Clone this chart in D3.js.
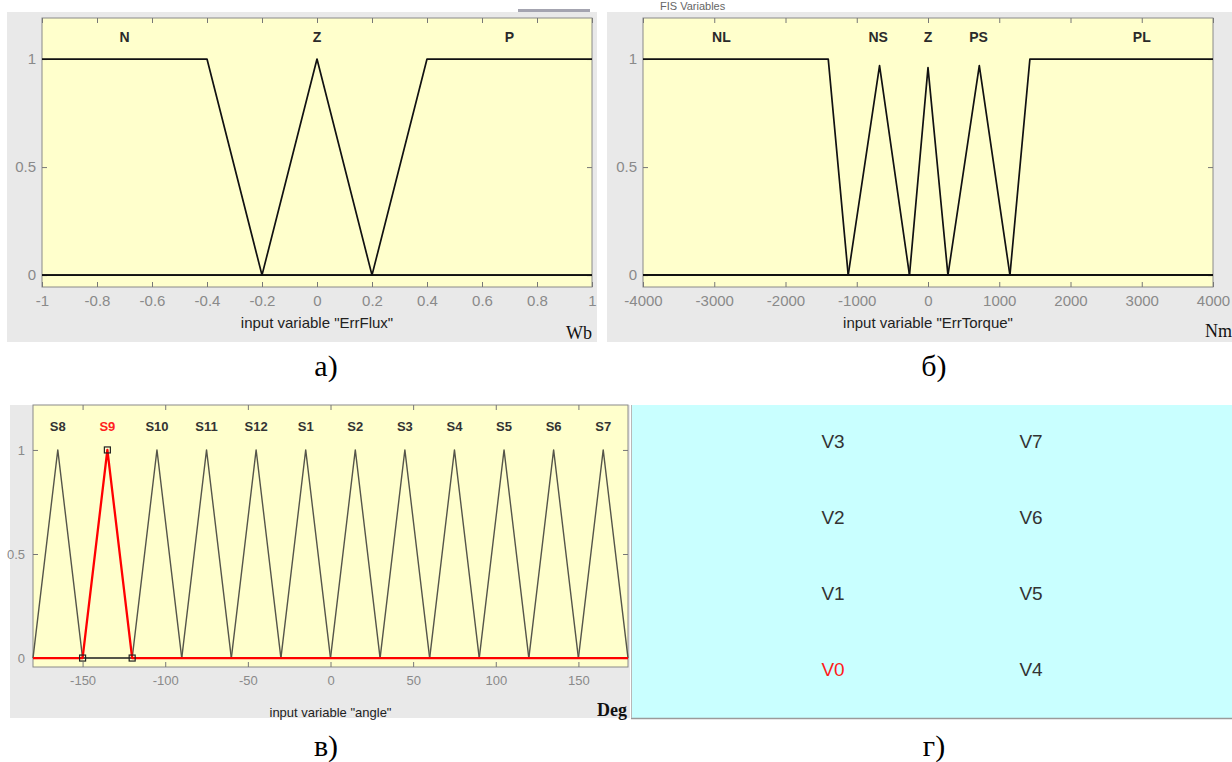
<!DOCTYPE html>
<html>
<head>
<meta charset="utf-8">
<script src="https://cdn.jsdelivr.net/npm/d3@7"></script>
<style>
  body { margin: 0; background: #fff; }
  svg { display: block; }
  .tick text { fill: #8a8a8a; }
  .tick line { stroke: #777; }
</style>
</head>
<body>
<div id="chart-area"></div>
<script>
    // panel a) - ErrFlux
    var fluxTicks = [-1, -0.8, -0.6, -0.4, -0.2, 0, 0.2, 0.4, 0.6, 0.8, 1];
    var fluxNames = ['N', 'Z', 'P'];
    var fluxNameX = [-0.7, 0, 0.7];
    var fluxMF = [
      [[-1, 1], [-0.4, 1], [-0.2, 0], [1, 0]],
      [[-1, 0], [-0.2, 0], [0, 1], [0.2, 0], [1, 0]],
      [[-1, 0], [0.2, 0], [0.4, 1], [1, 1]]
    ];

    // panel b) - ErrTorque
    var torqueTicks = [-4000, -3000, -2000, -1000, 0, 1000, 2000, 3000, 4000];
    var torqueNames = ['NL', 'NS', 'Z', 'PS', 'PL'];
    var torqueNameX = [-2900, -700, 0, 710, 3000];
    var torqueMF = [
      [[-4000, 1], [-1400, 1], [-1120, 0], [4000, 0]],
      [[-4000, 0], [-1120, 0], [-680, 0.97], [-260, 0], [4000, 0]],
      [[-4000, 0], [-260, 0], [0, 0.96], [280, 0], [4000, 0]],
      [[-4000, 0], [280, 0], [720, 0.97], [1150, 0], [4000, 0]],
      [[-4000, 0], [1150, 0], [1430, 1], [4000, 1]]
    ];

    // panel v) - angle
    var angleTicks = [-150, -100, -50, 0, 50, 100, 150];
    var angleNames = ['S8', 'S9', 'S10', 'S11', 'S12', 'S1', 'S2', 'S3', 'S4', 'S5', 'S6', 'S7'];
    var angleTri = [
      [-180, -165, -150], [-150, -135, -120], [-120, -105, -90], [-90, -75, -60],
      [-60, -45, -30], [-30, -15, 0], [0, 15, 30], [30, 45, 60],
      [60, 75, 90], [90, 105, 120], [120, 135, 150], [150, 165, 180]
    ];
    var angleSelected = 'S9';

    // panel g) - voltage vectors
    var vectorCols = [
      ['V3', 'V2', 'V1', 'V0'],
      ['V7', 'V6', 'V5', 'V4']
    ];
    var vectorSelected = 'V0';

    var yTicks = [0, 0.5, 1];

    var svg = d3.select('#chart-area')
        .append('svg')
        .attr('width', 1232)
        .attr('height', 762);

    var sansFont = '"Liberation Sans Narrow", "Arial Narrow", "Liberation Sans", Arial, sans-serif';
    var plainFont = '"Liberation Sans", Arial, sans-serif';
    var serifFont = '"Liberation Serif", "Times New Roman", serif';

    function drawPanel(cfg) {
      var g = svg.append('g');

      g.append('rect')
        .attr('x', cfg.bg[0]).attr('y', cfg.bg[1])
        .attr('width', cfg.bg[2]).attr('height', cfg.bg[3])
        .attr('fill', '#e9e9e9');

      var x = d3.scaleLinear().domain(cfg.xDomain).range([cfg.plot[0], cfg.plot[0] + cfg.plot[2]]);
      var y = d3.scaleLinear().domain(cfg.yDomain).range([cfg.plot[1] + cfg.plot[3], cfg.plot[1]]);

      g.append('rect')
        .attr('x', cfg.plot[0]).attr('y', cfg.plot[1])
        .attr('width', cfg.plot[2]).attr('height', cfg.plot[3])
        .attr('fill', '#ffffcc')
        .attr('stroke', '#8a8a8a')
        .attr('stroke-width', 1);

      var bottom = cfg.plot[1] + cfg.plot[3];
      var right = cfg.plot[0] + cfg.plot[2];
      var plain = (d) => String(d);

      var xAxisCall = d3.axisBottom(x).tickValues(cfg.xTicks).tickSize(-5).tickPadding(cfg.xPad).tickFormat(plain);
      var xTop = d3.axisTop(x).tickValues(cfg.xTicks).tickSize(-5).tickFormat('');
      var yAxisCall = d3.axisLeft(y).tickValues(yTicks).tickSize(-5).tickPadding(cfg.yPad).tickFormat(plain);
      var yRight = d3.axisRight(y).tickValues(yTicks).tickSize(-5).tickFormat('');

      g.append('g').attr('transform', `translate(0, ${bottom})`).call(xAxisCall)
        .attr('font-family', sansFont).attr('font-size', cfg.tickSize);
      g.append('g').attr('transform', `translate(0, ${cfg.plot[1]})`).call(xTop);
      g.append('g').attr('transform', `translate(${cfg.plot[0]}, 0)`).call(yAxisCall)
        .attr('font-family', sansFont).attr('font-size', cfg.tickSize);
      g.append('g').attr('transform', `translate(${right}, 0)`).call(yRight);
      g.selectAll('.domain').remove();

      var line = d3.line().x((d) => x(d[0])).y((d) => y(d[1]));

      cfg.mf.forEach((pts, i) => {
        g.append('path')
          .attr('d', line(pts))
          .attr('fill', 'none')
          .attr('stroke', cfg.mfColor[i] || '#111')
          .attr('stroke-width', cfg.mfWidth[i] || 1.7)
          .attr('stroke-linejoin', 'round');
      });

      cfg.names.forEach((name, i) => {
        g.append('text')
          .attr('x', x(cfg.nameX[i]))
          .attr('y', cfg.nameY)
          .attr('text-anchor', 'middle')
          .attr('font-family', sansFont)
          .attr('font-size', cfg.nameSize)
          .attr('font-weight', 'bold')
          .attr('fill', cfg.nameColor[i] || '#2a2a2a')
          .text(name);
      });

      g.append('text')
        .attr('x', cfg.plot[0] + cfg.plot[2] / 2)
        .attr('y', cfg.labelY)
        .attr('text-anchor', 'middle')
        .attr('font-family', sansFont)
        .attr('font-size', cfg.labelSize)
        .attr('fill', '#222')
        .text(cfg.label);

      g.append('text')
        .attr('x', cfg.unitX)
        .attr('y', cfg.unitY)
        .attr('text-anchor', 'end')
        .attr('font-family', serifFont)
        .attr('font-size', 18)
        .attr('font-weight', cfg.unitBold ? 'bold' : 'normal')
        .attr('fill', '#111')
        .text(cfg.unit);

      return { g: g, x: x, y: y };
    }

    // a)
    drawPanel({
      bg: [7, 12, 590, 330],
      plot: [42, 18, 550, 269],
      xDomain: [-1, 1],
      yDomain: [-0.055, 1.19],
      xTicks: fluxTicks,
      xPad: 8, yPad: 6, tickSize: 15,
      mf: fluxMF,
      mfColor: [], mfWidth: [],
      names: fluxNames, nameX: fluxNameX, nameY: 42, nameSize: 14, nameColor: [],
      label: 'input variable "ErrFlux"', labelY: 328, labelSize: 15,
      unit: 'Wb', unitX: 592, unitY: 339
    });
    svg.append('rect').attr('x', 518).attr('y', 9).attr('width', 72).attr('height', 3).attr('fill', '#a4a4b0');

    // b)
    drawPanel({
      bg: [607, 12, 625, 330],
      plot: [643, 18, 570, 269],
      xDomain: [-4000, 4000],
      yDomain: [-0.055, 1.19],
      xTicks: torqueTicks,
      xPad: 8, yPad: 6, tickSize: 15,
      mf: torqueMF,
      mfColor: [], mfWidth: [],
      names: torqueNames, nameX: torqueNameX, nameY: 42, nameSize: 14, nameColor: [],
      label: 'input variable "ErrTorque"', labelY: 328, labelSize: 15,
      unit: 'Nm', unitX: 1232, unitY: 337
    });
    svg.append('text').attr('x', 660).attr('y', 10).attr('font-family', plainFont)
      .attr('font-size', 11).attr('fill', '#666').text('FIS Variables');

    // v)
    var angleMF = angleTri.map((t) => [[-180, 0], [t[0], 0], [t[1], 1], [t[2], 0], [180, 0]]);
    var selIndex = angleNames.indexOf(angleSelected);
    var order = angleNames.map((n, i) => i).filter((i) => i !== selIndex).concat([selIndex]);
    var c = drawPanel({
      bg: [10, 405, 620, 313],
      plot: [33, 405, 595, 262],
      xDomain: [-180, 180],
      yDomain: [-0.043, 1.216],
      xTicks: angleTicks,
      xPad: 9, yPad: 8, tickSize: 13,
      mf: order.map((i) => angleMF[i]),
      mfColor: order.map((i) => i === selIndex ? '#ff0000' : '#55554a'),
      mfWidth: order.map((i) => i === selIndex ? 2.3 : 1.4),
      names: angleNames,
      nameX: angleTri.map((t) => t[1]),
      nameY: 431, nameSize: 13,
      nameColor: angleNames.map((n) => n === angleSelected ? '#ff2020' : '#333'),
      label: 'input variable "angle"', labelY: 717, labelSize: 13,
      unit: 'Deg', unitX: 627, unitY: 716, unitBold: true
    });
    var selTri = angleTri[selIndex];
    c.g.selectAll('.handle')
      .data([[selTri[0], 0], [selTri[1], 1], [selTri[2], 0]])
      .enter()
      .append('rect')
      .attr('class', 'handle')
      .attr('x', (d) => c.x(d[0]) - 3)
      .attr('y', (d) => c.y(d[1]) - 3)
      .attr('width', 6)
      .attr('height', 6)
      .attr('fill', 'none')
      .attr('stroke', '#222')
      .attr('stroke-width', 1.2);

    // g)
    var dg = svg.append('g');
    dg.append('rect').attr('x', 631).attr('y', 405).attr('width', 601).attr('height', 313).attr('fill', '#c9ffff');
    dg.append('line').attr('x1', 631).attr('x2', 1232).attr('y1', 718.5).attr('y2', 718.5)
      .attr('stroke', '#9a9a9a').attr('stroke-width', 1.5);
    dg.append('line').attr('x1', 631.5).attr('x2', 631.5).attr('y1', 405).attr('y2', 718)
      .attr('stroke', '#b8b8b8').attr('stroke-width', 1);

    var colScale = d3.scalePoint().domain([0, 1]).range([833, 1031]);
    var rowScale = d3.scalePoint().domain([0, 1, 2, 3]).range([448, 676]);
    vectorCols.forEach((col, ci) => {
      col.forEach((name, ri) => {
        dg.append('text')
          .attr('x', colScale(ci))
          .attr('y', rowScale(ri))
          .attr('text-anchor', 'middle')
          .attr('font-family', sansFont)
          .attr('font-size', 19)
          .attr('fill', name === vectorSelected ? '#ff1a1a' : '#333')
          .text(name);
      });
    });

    // captions
    var captions = [['а)', 326, 376], ['б)', 934, 376], ['в)', 326, 756], ['г)', 934, 756]];
    captions.forEach((cap) => {
      svg.append('text')
        .attr('x', cap[1]).attr('y', cap[2])
        .attr('text-anchor', 'middle')
        .attr('font-family', serifFont)
        .attr('font-size', 30)
        .attr('fill', '#000')
        .text(cap[0]);
    });
</script>
</body>
</html>
